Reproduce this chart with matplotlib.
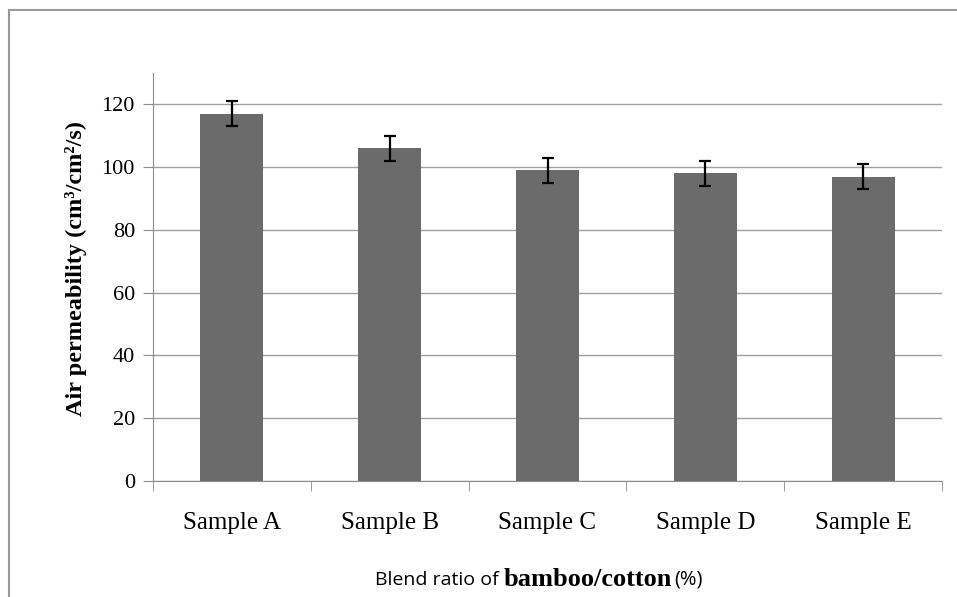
import matplotlib
matplotlib.use('Agg')
import matplotlib.pyplot as plt
from matplotlib.patches import Rectangle

# Datos
muestras = ['Sample A', 'Sample B', 'Sample C', 'Sample D', 'Sample E']
permeabilidad = [117, 106, 99, 98, 97]
error = [4, 4, 4, 4, 4]

W, H = 957, 597
fig = plt.figure(figsize=(W / 100, H / 100), dpi=100)
# Área del gráfico en píxeles: x 153-942, y 73-481
ax = fig.add_axes([153 / W, 1 - 481 / H, (942 - 153) / W, (481 - 73) / H])

gris_borde = '#8c8c8c'
ax.bar(range(len(muestras)), permeabilidad, width=0.4, color='#6b6b6b', zorder=3,
       yerr=error, capsize=4, error_kw=dict(ecolor='black', elinewidth=1.6, capthick=1.6, zorder=4))

ax.set_xlim(-0.5, len(muestras) - 0.5)
ax.set_ylim(0, 130)
ax.set_yticks(range(0, 121, 20))
ax.grid(axis='y', color='#a0a0a0', linewidth=1, zorder=0)

for lado in ['top', 'right']:
    ax.spines[lado].set_visible(False)
ax.spines['left'].set_color(gris_borde)
ax.spines['bottom'].set_color(gris_borde)

# Ticks del eje x en los límites entre categorías
ax.set_xticks(range(len(muestras)))
ax.set_xticklabels(muestras, family='Liberation Serif', fontsize=18)
ax.tick_params(axis='x', length=0, pad=22)
ax.set_xticks([i - 0.5 for i in range(len(muestras) + 1)], minor=True)
ax.tick_params(axis='x', which='minor', length=7, color=gris_borde, direction='out')
ax.tick_params(axis='y', length=7, color=gris_borde, pad=6, labelsize=16)
for t in ax.get_yticklabels():
    t.set_family('Liberation Serif')

ax.set_ylabel('Air permeability (cm³/cm²/s)', family='Liberation Serif',
              fontweight='bold', fontsize=17.5)
ax.yaxis.set_label_coords(-0.084, 0.52)

# Título del eje x con fuentes mezcladas
y_txt = 1 - 580 / H
t1 = fig.text(375 / W, y_txt, 'Blend ratio of ', family='Open Sans', fontsize=14, va='center')
fig.canvas.draw()
bb = t1.get_window_extent()
t2 = fig.text(bb.x1 / W, y_txt, 'bamboo/cotton', family='Liberation Serif',
              fontweight='bold', fontsize=19, va='center')
fig.canvas.draw()
bb2 = t2.get_window_extent()
fig.text(bb2.x1 / W + 0.002, y_txt, '(%)', family='Open Sans', fontsize=14.5, va='center')

# Marco exterior del gráfico
fig.patches.append(Rectangle((9 / W, -0.1), 1.2, 1 - 10 / H + 0.1, transform=fig.transFigure,
                             fill=False, edgecolor='#999999', linewidth=1.5))

fig.savefig('out.png', dpi=100)
